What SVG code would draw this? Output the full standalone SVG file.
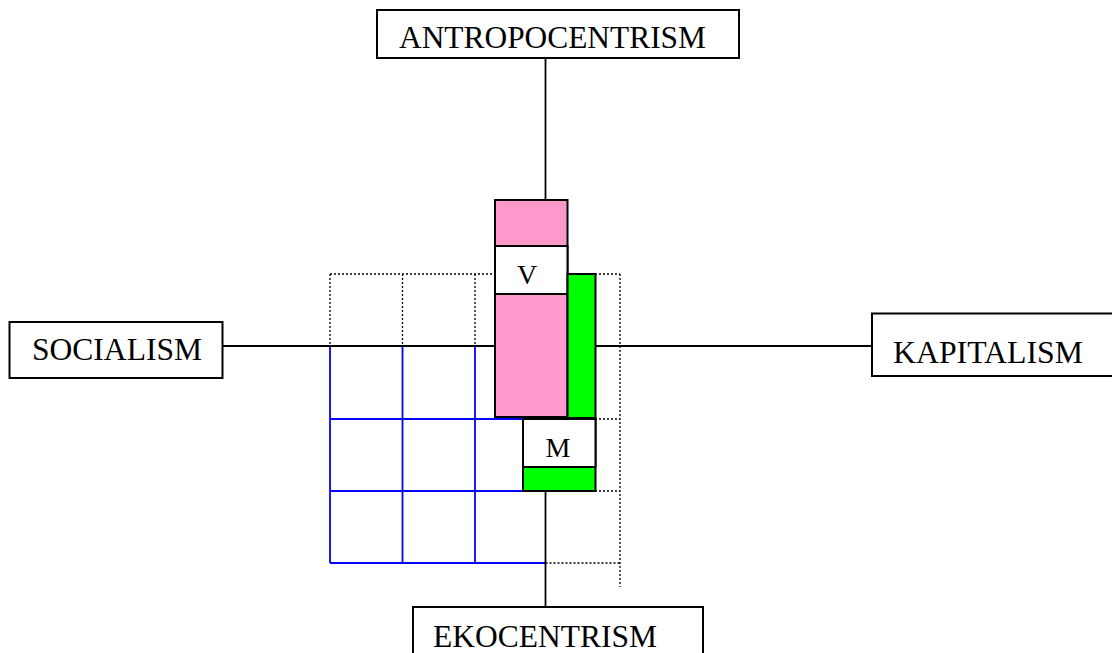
<svg xmlns="http://www.w3.org/2000/svg" width="1112" height="653" viewBox="0 0 1112 653">
  <style>
    .box { fill: #ffffff; stroke: #000000; stroke-width: 2; }
    .lbl { font-family: "Liberation Serif", "Times New Roman", serif; font-size: 31px; fill: #000000; }
    .sm { font-family: "Liberation Serif", "Times New Roman", serif; font-size: 28px; fill: #000000; text-anchor: middle; }
    .conn { stroke: #000000; stroke-width: 1.8; fill: none; }
    .dot { stroke: #000000; stroke-width: 1.3; stroke-dasharray: 2 2; fill: none; }
    .grid { stroke: #0000FF; stroke-width: 1.8; fill: none; }
    .pink { fill: #FF99CC; stroke: #000000; stroke-width: 2; }
    .green { fill: #00FF00; stroke: #000000; stroke-width: 2; }
  </style>
  <rect x="0" y="0" width="1112" height="653" fill="#ffffff"/>

  <g id="dotted-grid">
    <path class="dot" d="M330 274 H495 M595 274 H620 M330 274 V346 M402.5 274 V346 M475 274 V346 M620 274 V587 M595 419 H620 M595 491 H620 M545.5 563 H620"/>
  </g>
  <g id="blue-grid">
    <path class="grid" d="M330 346 V563 M402.5 346 V563 M475 346 V563 M330 419 H523 M330 491 H523 M330 563 H545.5"/>
  </g>

  <g id="connectors">
    <path class="conn" d="M545.5 58 V200"/>
    <path class="conn" d="M222 346 H495"/>
    <path class="conn" d="M595 346 H872"/>
    <path class="conn" d="M545.5 491 V607"/>
  </g>

  <g id="antropocentrism">
    <rect class="box" x="377" y="10" width="362" height="48"/>
    <text class="lbl" x="399" y="48" textLength="307" lengthAdjust="spacingAndGlyphs">ANTROPOCENTRISM</text>
  </g>
  <g id="socialism">
    <rect class="box" x="9.5" y="322" width="213" height="56"/>
    <text class="lbl" x="32" y="360" textLength="170" lengthAdjust="spacingAndGlyphs">SOCIALISM</text>
  </g>
  <g id="kapitalism">
    <rect class="box" x="872" y="313.5" width="260" height="62.5"/>
    <text class="lbl" x="893" y="363" textLength="190" lengthAdjust="spacingAndGlyphs">KAPITALISM</text>
  </g>
  <g id="ekocentrism">
    <rect class="box" x="413" y="607" width="290" height="60"/>
    <text class="lbl" x="433" y="647" textLength="224" lengthAdjust="spacingAndGlyphs">EKOCENTRISM</text>
  </g>

  <g id="v-bar">
    <rect class="pink" x="495" y="200" width="72.5" height="217"/>
    <rect class="box" x="495" y="246" width="72.5" height="48"/>
    <text class="sm" x="527" y="284">V</text>
  </g>
  <g id="m-bar">
    <rect class="green" x="567.5" y="274" width="28" height="144"/>
    <rect class="green" x="523" y="419" width="72.5" height="72"/>
    <rect class="box" x="523" y="419" width="72.5" height="48"/>
    <text class="sm" x="558" y="457">M</text>
  </g>
</svg>
